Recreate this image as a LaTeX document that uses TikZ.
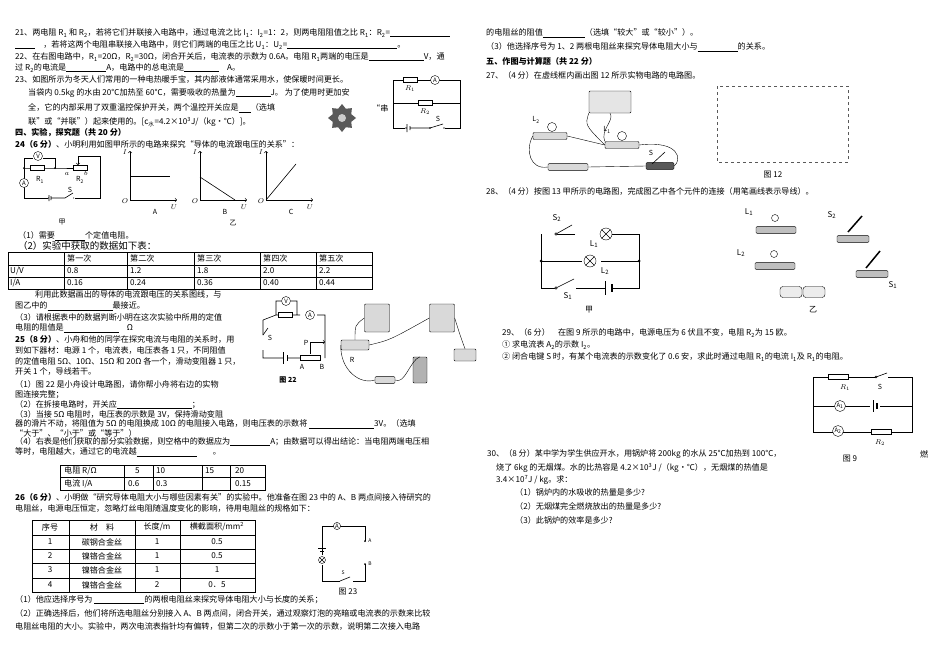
\documentclass[tikz,border=0pt]{standalone}
\usepackage{fontspec}
\setmainfont{Noto Sans CJK SC}
\usetikzlibrary{shapes.geometric}
\newcommand{\bl}[1]{\rule[-1pt]{#1pt}{0.4pt}}
\begin{document}
\begin{tikzpicture}[x=1pt,y=-1pt,
 t/.style={anchor=west,inner sep=0,font=\fontsize{8.1}{10}\selectfont},
 tb/.style={t,font=\fontsize{8.1}{10}\selectfont\bfseries},
 w/.style={line width=0.6pt},
 res/.style={draw,fill=white,minimum width=14pt,minimum height=5pt,inner sep=0},
 met/.style={draw,circle,fill=white,inner sep=0.5pt,minimum size=9pt,font=\fontsize{6}{6}\selectfont},
 lab/.style={inner sep=0,font=\fontsize{7}{8}\selectfont},
 ph/.style={draw,fill=gray!30,rounded corners=1pt}]
\useasboundingbox (0,0) rectangle (950,669);
% ---------- left column text
\node[t] (a1) at (15,33) {21、两电阻 R\textsubscript{1} 和 R\textsubscript{2}，若将它们并联接入电路中，通过电流之比 I\textsubscript{1}：I\textsubscript{2}=1：2，则两电阻阻值之比 R\textsubscript{1}：R\textsubscript{2}=\bl{60}};
\node[t] (a2) at (15,45) {\bl{20}　，若将这两个电阻串联接入电路中，则它们两端的电压之比 U\textsubscript{1}：U\textsubscript{2}=\bl{110}。};
\node[t] (a3) at (15,57) {22、在右图电路中，R\textsubscript{1}=20Ω，R\textsubscript{2}=30Ω，闭合开关后，电流表的示数为 0.6A。电阻 R\textsubscript{1}两端的电压是\bl{55}V，通};
\node[t] (a4) at (15,68) {过 R\textsubscript{2}的电流是\bl{40}A，电路中的总电流是\bl{35}　A。};
\node[t] (a5) at (15,79) {23、如图所示为冬天人们常用的一种电热暖手宝，其内部液体通常采用水，使保暖时间更长。};
\node[t] (a6) at (28,93) {当袋内 0.5kg 的水由 20℃加热至 60℃，需要吸收的热量为\bl{35}J。 为了使用时更加安};
\node[t] (a7) at (28,108) {全，它的内部采用了双重温控保护开关，两个温控开关应是\bl{12}（选填};
\node[t] (a7b) at (372,108) {“串};
\node[t] (a8) at (28,122) {联”或“并联”）起来使用的。[c\textsubscript{水}=4.2×10\textsuperscript{3}J/（kg·℃）]。};
\node[tb] (a9) at (15,133) {四、实验，探究题（共 20 分）};
\node[t] (a10) at (15,144) {\textbf{24（6 分）}、小明利用如图甲所示的电路来探究“导体的电流跟电压的关系”：};
% item 23 circuit
\draw[w] (393,80) rectangle (460,128);
\draw[w] (393,103) -- (460,103);
\node[res] (r1) at (410,80) {}; \node[met] (am) at (435,80) {A};
\node[res] (r2) at (425,103) {};
\node[lab] (r1l) at (410,89) {$R_1$}; \node[lab] (r2l) at (425,112) {$R_2$};
\fill[white] (405,123) rectangle (445,133);
\draw[w] (405,128) -- (407,128) (407,124) -- (407,132) (410,126) -- (410,130) (410,128) -- (430,128) (430,128) -- (443,124) (443,128) -- (445,128);
\fill (430,128) circle (0.8);
\node[lab] (sl) at (438,119) {S};
\node[star,star points=8,star point ratio=1.4,fill=gray!70!black,minimum size=28pt,inner sep=0] (warm) at (342,118) {};
\node[circle,fill=gray!40,minimum size=8pt,inner sep=0] (warm2) at (342,118) {};
% item 24 figures
\draw[w] (24,165) -- (24,198) -- (100,198) -- (100,156) -- (78,156);
\draw[w] (24,168) -- (55,168) -- (79,168) (55,168) -- (55,158) (24,168) -- (24,158) -- (33,158) (43,158) -- (55,158);
\node[met] (v24) at (38,156) {V}; \node[res] (r124) at (37,168) {}; \node[res] (r224) at (80,168) {};
\draw[w,->] (78,156) -- (78,165);
\fill (24,168) circle (1) (55,168) circle (1);
\node[met] (a24) at (24,183) {A};
\node[lab] (R1t) at (40,180) {R\textsubscript{1}}; \node[lab] (R2t) at (80,180) {R\textsubscript{2}};
\node[lab] (at) at (67,174) {$a$}; \node[lab] (bt) at (86,173) {$b$};
\fill[white] (48,194) rectangle (75,202);
\draw[w] (48,198) -- (49,198) (49,195) -- (49,201) (51,196) -- (51,200) (51,198) -- (65,198) -- (73,193) (73,198) -- (74,198);
\node[lab] (s24) at (70,190) {S};
\node[lab] (jia) at (62,222) {甲}; \node[lab] (yi) at (233,223) {乙};
\foreach \ox/\nm in {130/A,200/B,266/C}{
 \draw[w,->] (\ox,200) -- (\ox,151); \draw[w,->] (\ox,200) -- (\ox+47,200);
 \node[lab] at (\ox-5,152) {$I$}; \node[lab] at (\ox-5,201) {$O$}; \node[lab] at (\ox+44,207) {$U$};
 \node[lab] at (\ox+25,212) {\nm};}
\draw[w] (130,176) -- (170,176);
\draw[w] (200,177) -- (235,200);
\draw[w] (266,200) -- (296,164);
\node[t] (a11) at (18,236) {（1）需要\bl{30}个定值电阻。};
\node[t,font=\fontsize{9.5}{10}\selectfont] (a12) at (18,246) {（2）实验中获取的数据如下表：};
% table 1
\draw[w] (8,252) rectangle (372,289);
\foreach \y in {265,277} \draw[w] (8,\y) -- (372,\y);
\foreach \x in {64,127,194,260,316} \draw[w] (\x,252) -- (\x,289);
\foreach \x/\s in {67/第一次,130/第二次,197/第三次,263/第四次,319/第五次}{\node[t] at (\x,258) {\s};}
\node[t] at (10,271) {\textit{U}/V}; \node[t] at (10,283) {\textit{I}/A};
\foreach \x/\s/\u in {67/0.8/0.16,130/1.2/0.24,197/1.8/0.36,263/2.0/0.40,319/2.2/0.44}{\node[t] at (\x,271) {\s}; \node[t] at (\x,283) {\u};}
\node[t] (a13) at (35,295) {利用此数据画出的导体的电流跟电压的关系图线，与};
\node[t] (a14) at (15,306) {图乙中的\bl{65}最接近。};
\node[t] (a15) at (15,317) {（3）请根据表中的数据判断小明在这次实验中所用的定值};
\node[t] (a16) at (15,328) {电阻的阻值是\bl{55}　Ω};
\node[t] (a17) at (15,339) {\textbf{25（8 分）}、小舟和他的同学在探究电流与电阻的关系时，用};
\node[t] (a18) at (15,350) {到如下器材：电源 1 个，电流表，电压表各 1 只，不同阻值};
\node[t] (a19) at (15,361) {的定值电阻 5Ω、10Ω、15Ω 和 20Ω 各一个，滑动变阻器 1 只，};
\node[t] (a20) at (15,372) {开关 1 个，导线若干。};
\node[t] (a21) at (15,384) {（1）图 22 是小舟设计电路图，请你帮小舟将右边的实物};
\node[t] (a22) at (15,395) {图连接完整；};
\node[t] (a23) at (15,405) {（2）在拆接电路时，开关应\bl{75}；};
\node[t] (a24) at (15,414) {（3）当接 5Ω 电阻时，电压表的示数是 3V，保持滑动变阻};
\node[t] (a25) at (15,424) {器的滑片不动，将阻值为 5Ω 的电阻换成 10Ω 的电阻接入电路，则电压表的示数将 \bl{65}3V。（选填};
\node[t] (a26) at (15,433) {“大于”、“小于”或“等于”）};
\node[t] (a27) at (15,442) {（4）右表是他们获取的部分实验数据，则空格中的数据应为\bl{40}A；由数据可以得出结论：当电阻两端电压相};
\node[t] (a28) at (15,452) {等时，电阻越大，通过它的电流越\bl{60}　　。};
% table 2
\draw[w] (60,465) rectangle (265,490);
\draw[w] (60,477) -- (265,477);
\foreach \x in {124,153,202,230} \draw[w] (\x,465) -- (\x,490);
\node[t] at (64,471) {电阻 R/Ω}; \node[t] at (64,484) {电流 I/A};
\node[t] at (135,471) {5}; \node[t] at (156,471) {10}; \node[t] at (205,471) {15}; \node[t] at (235,471) {20};
\node[t] at (128,484) {0.6}; \node[t] at (156,484) {0.3}; \node[t] at (235,484) {0.15};
% fig 22 circuit
\draw[w] (263,320) -- (263,335) (263,350) -- (263,358) -- (283,358) (288,358) -- (300,358) (325,358) -- (325,315) -- (317,315) (300,315) -- (276,315) -- (276,301) -- (281,301) (291,301) -- (297,301) -- (297,315) (263,320) -- (276,315);
\draw[w] (263,335) -- (268,328);
\node[res] (r22) at (285,315) {}; \node[met] (a22m) at (310,315) {A}; \node[met] (v22) at (286,301) {V};
\draw[w] (283,352) -- (283,364) (287,355) -- (287,361);
\node[res,minimum width=20pt] (rh) at (310,358) {}; \draw[w,->] (310,342) -- (310,354) (310,342) -- (325,342);
\node[lab] (P) at (306,343) {P}; \node[lab] (Ab) at (302,367) {A}; \node[lab] (Bb) at (322,367) {B};
\node[lab] (S22) at (270,338) {S};
\node[lab,font=\fontsize{7}{8}\selectfont\bfseries] (f22) at (288,380) {图 22};
% photos fig 22
\node[ph,minimum width=25pt,minimum height=28pt] (vm) at (377,318) {};
\node[ph,minimum width=25pt,minimum height=28pt] (amm) at (442,318) {};
\node[ph,minimum width=28pt,minimum height=10pt] (rr) at (355,345) {}; \node[lab] (Rl) at (352,360) {R};
\node[ph,fill=gray!60,minimum width=14pt,minimum height=26pt] (batt) at (420,370) {};
\node[ph,minimum width=20pt,minimum height=6pt] (sw) at (385,380) {};
\node[ph,minimum width=22pt,minimum height=12pt] (rhp) at (465,355) {};
\draw (rr.west) .. controls (340,370) and (360,385) .. (sw.west);
\draw (sw.east) .. controls (405,385) and (410,360) .. (batt.north);
\draw (rr.north) .. controls (355,325) .. (vm.west);
\draw (rr.east) .. controls (390,340) .. (amm.west);
\draw (amm.east) .. controls (460,335) .. (rhp.north);
% item 26
\node[t] (b1) at (15,497) {\textbf{26（6 分）}、小明做“研究导体电阻大小与哪些因素有关”的实验中。他准备在图 23 中的 A、B 两点间接入待研究的};
\node[t] (b2) at (15,508) {电阻丝，电源电压恒定，忽略灯丝电阻随温度变化的影响，待用电阻丝的规格如下：};
\draw[w] (32,520) rectangle (255,592);
\foreach \y in {535,549,563,578} \draw[w] (32,\y) -- (255,\y);
\foreach \x in {69,135,180} \draw[w] (\x,520) -- (\x,592);
\foreach \y/\a/\b/\c/\d in {527/序号/材　料/{长度/m}/{横截面积/mm\textsuperscript{2}},542/1/碳钢合金丝/1/0.5,556/2/镍铬合金丝/1/0.5,570/3/镍铬合金丝/1/1,585/4/镍铬合金丝/2/0．5}{
 \node[inner sep=0,font=\fontsize{8.1}{10}\selectfont] at (50,\y) {\a};
 \node[inner sep=0,font=\fontsize{8.1}{10}\selectfont] at (102,\y) {\b};
 \node[inner sep=0,font=\fontsize{8.1}{10}\selectfont] at (157,\y) {\c};
 \node[inner sep=0,font=\fontsize{8.1}{10}\selectfont] at (217,\y) {\d};}
% fig 23
\draw[w] (322,555) -- (322,526) -- (365,526) -- (365,541) (365,564) -- (365,581) -- (353,581) (340,581) -- (322,581) -- (322,565);
\draw[w] (340,581) -- (350,577);
\node[met,minimum size=7pt] (a23) at (337,526) {A};
\draw[w] (318,548) -- (326,548) (320,551) -- (324,551);
\node[draw,circle,inner sep=0,minimum size=7pt,fill=white] (lamp) at (322,560) {}; \draw (lamp.north east) -- (lamp.south west) (lamp.north west) -- (lamp.south east);
\fill (365,541) circle (1) (365,564) circle (1);
\node[lab,font=\fontsize{5}{5}\selectfont] (Apt) at (370,541) {A}; \node[lab,font=\fontsize{5}{5}\selectfont] (Bpt) at (370,564) {B};
\node[lab,font=\fontsize{5}{5}\selectfont] (s23) at (343,573) {S};
\node[lab,font=\fontsize{8}{9}\selectfont] (f23) at (348,592) {图 23};
\node[t] (b3) at (15,600) {（1）他应选择序号为 \bl{50}的两根电阻丝来探究导体电阻大小与长度的关系；};
\node[t] (b4) at (15,613) {（2）正确选择后，他们将所选电阻丝分别接入 A、B 两点间，闭合开关，通过观察灯泡的亮暗或电流表的示数来比较};
\node[t] (b5) at (15,626) {电阻丝电阻的大小。实验中，两次电流表指针均有偏转，但第二次的示数小于第一次的示数，说明第二次接入电路};
% ---------- right column
\node[t] (c1) at (486,33) {的电阻丝的阻值\bl{42}（选填“较大”或“较小”）。};
\node[t] (c2) at (486,47) {（3）他选择序号为 1、2 两根电阻丝来探究导体电阻大小与\bl{40}的关系。};
\node[tb] (c3) at (486,61) {五、作图与计算题（共 22 分）};
\node[t] (c4) at (486,75) {27、（4 分）在虚线框内画出图 12 所示实物电路的电路图。};
% fig 12 photo
\node[ph,fill=gray!20,minimum width=42pt,minimum height=22pt] (vm12) at (610,102) {};
\node[ph,minimum width=34pt,minimum height=7pt] (l2b) at (550,136) {}; \node[circle,draw,fill=white,minimum size=9pt,inner sep=0] (l2) at (552,127) {};
\node[ph,minimum width=34pt,minimum height=7pt] (l1b) at (622,145) {}; \node[circle,draw,fill=white,minimum size=9pt,inner sep=0] (l1) at (622,136) {};
\node[ph,minimum width=40pt,minimum height=6pt] (bat12) at (568,167) {};
\node[ph,fill=gray!70!black,minimum width=28pt,minimum height=6pt] (sw12) at (660,166) {};
\draw[w] (652,164) -- (665,152);
\node[lab] (L2t) at (536,120) {L\textsubscript{2}}; \node[lab] (L1t) at (607,130) {L\textsubscript{1}}; \node[lab] (St) at (651,153) {S};
\draw (l2b.west) .. controls (525,150) and (530,170) .. (bat12.west);
\draw (l2b.east) -- (l1b.west);
\draw (vm12.south west) .. controls (585,125) .. (l1b.west);
\draw (vm12.south) .. controls (615,120) and (600,130) .. (l1b.north west);
\draw (l1b.east) .. controls (680,140) and (682,160) .. (sw12.east);
\draw (bat12.east) -- (sw12.west);
\draw[dashed,line width=0.8pt,gray!70!black] (717,86) rectangle (848,162);
\node[lab,font=\fontsize{8}{9}\selectfont] (f12) at (773,175) {图 12};
\node[t] (c5) at (486,191) {28、（4 分）按图 13 甲所示的电路图，完成图乙中各个元件的连接（用笔画线表示导线）。};
% fig 13 甲
\coordinate (j1) at (541,261); \coordinate (j2) at (639,261);
\draw[w] (541,234) -- (541,288) -- (556,288) (576,288) -- (605,288) (612,288) -- (639,288) -- (639,234) -- (606,234) (575,234) -- (556,234) (541,261) -- (582,261) (601,261) -- (639,261);
\draw[w] (556,234) -- (572,225) (556,288) -- (574,279);
\draw[w,fill=white] (556,234) circle (1.3) (556,288) circle (1.3);
\node[draw,circle,inner sep=0,minimum size=12pt,fill=white] (L1) at (606,234) {}; \draw (L1.north east) -- (L1.south west) (L1.north west) -- (L1.south east);
\node[draw,circle,inner sep=0,minimum size=12pt,fill=white] (L2) at (590,261) {}; \draw (L2.north east) -- (L2.south west) (L2.north west) -- (L2.south east);
\draw[w] (605,281) -- (605,295);
\draw[line width=1.4pt] (612,284) -- (612,292);
\fill (j1) circle (1.5) (j2) circle (1.5);
\node[inner sep=0,font=\fontsize{8}{9}\selectfont] (S2t) at (557,218) {S\textsubscript{2}};
\node[inner sep=0,font=\fontsize{8}{9}\selectfont] (L1tt) at (594,244) {L\textsubscript{1}};
\node[inner sep=0,font=\fontsize{8}{9}\selectfont] (L2tt) at (605,271) {L\textsubscript{2}};
\node[inner sep=0,font=\fontsize{8}{9}\selectfont] (S1t) at (568,296) {S\textsubscript{1}};
\node[lab,font=\fontsize{8}{9}\selectfont] (jia13) at (589,310) {甲};
% fig 13 乙
\node[inner sep=0,font=\fontsize{8}{9}\selectfont] (L1y) at (749,212) {L\textsubscript{1}};
\node[ph,fill=gray!50,minimum width=40pt,minimum height=5pt] (l1p) at (776,230) {}; \node[draw,circle,fill=white,minimum size=7pt,inner sep=0] (l1g) at (775,218) {};
\node[inner sep=0,font=\fontsize{8}{9}\selectfont] (S2y) at (832,215) {S\textsubscript{2}};
\node[ph,fill=gray!50,minimum width=32pt,minimum height=6pt] (s2p) at (853,239) {}; \draw[line width=1.5pt] (848,232) -- (862,216);
\node[inner sep=0,font=\fontsize{8}{9}\selectfont] (L2y) at (741,253) {L\textsubscript{2}};
\node[ph,fill=gray!50,minimum width=40pt,minimum height=5pt] (l2p) at (775,266) {}; \node[draw,circle,fill=white,minimum size=7pt,inner sep=0] (l2g) at (774,254) {};
\node[ph,fill=gray!50,minimum width=32pt,minimum height=6pt] (s1p) at (872,274) {}; \draw[line width=1.5pt] (866,268) -- (880,251);
\node[inner sep=0,font=\fontsize{8}{9}\selectfont] (S1y) at (893,285) {S\textsubscript{1}};
\node[draw,rounded corners=3pt,fill=gray!15,minimum width=22pt,minimum height=11pt,inner sep=0] (c1b) at (791,292) {};
\node[draw,rounded corners=3pt,fill=gray!15,minimum width=22pt,minimum height=11pt,inner sep=0] (c2b) at (814,292) {};
\node[lab,font=\fontsize{8}{9}\selectfont] (yi13) at (813,310) {乙};
% item 29
\node[t] (d1) at (502,333) {29、（6 分）　在图 9 所示的电路中，电源电压为 6 伏且不变，电阻 R\textsubscript{2}为 15 欧。};
\node[t] (d2) at (502,345) {①  求电流表 A\textsubscript{2}的示数 I\textsubscript{2}。};
\node[t] (d3) at (502,357) {②  闭合电键 S 时，有某个电流表的示数变化了 0.6 安，求此时通过电阻 R\textsubscript{1}的电流 I\textsubscript{1}及 R\textsubscript{1}的电阻。};
% fig 9
\draw[w] (813,377) -- (813,432) -- (912,432) -- (912,377) -- (888,377) (876,377) -- (813,377) (813,406) -- (912,406);
\draw[w] (876,377) -- (887,373);
\draw[w,fill=white] (876,377) circle (1);
\node[res,minimum width=20pt] (R1f) at (838,377) {}; \node[lab] (R1ft) at (845,388) {$R_1$}; \node[lab] (Sft) at (880,387) {S};
\node[met,minimum size=11pt] (A1f) at (840,406) {A\textsubscript{1}};
\fill[white] (870,400) rectangle (880,412);
\draw[w] (873,400) -- (873,412); \draw[line width=1.4pt] (877,403) -- (877,409);
\node[met,minimum size=11pt] (A2f) at (838,431) {A\textsubscript{2}};
\node[res,minimum width=20pt] (R2f) at (881,432) {}; \node[lab] (R2ft) at (880,443) {$R_2$};
\node[lab,font=\fontsize{8}{9}\selectfont] (f9) at (850,459) {图 9};
\node[t] (e0) at (920,454) {燃};
% item 30
\node[t] (e1) at (487,454) {30、（8 分）某中学为学生供应开水，用锅炉将 200kg 的水从 25℃加热到 100℃，};
\node[t] (e2) at (496,468) {烧了 6kg 的无烟煤。水的比热容是 4.2×10\textsuperscript{3}J /（kg·℃），无烟煤的热值是};
\node[t] (e3) at (496,480) {3.4×10\textsuperscript{7}J / kg。求：};
\node[t] (e4) at (515,492) {（1）锅炉内的水吸收的热量是多少?};
\node[t] (e5) at (515,506) {（2）无烟煤完全燃烧放出的热量是多少?};
\node[t] (e6) at (515,520) {（3）此锅炉的效率是多少?};
\end{tikzpicture}
\end{document}
